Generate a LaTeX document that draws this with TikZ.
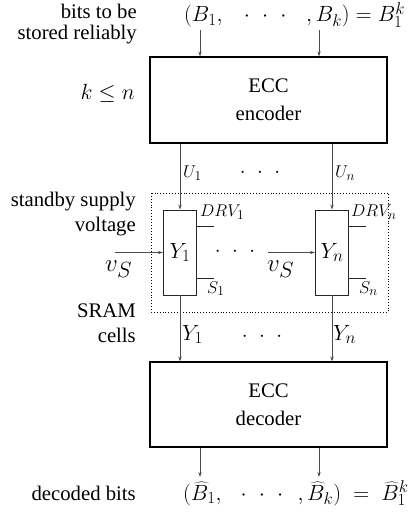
\RequirePackage{fix-cm}
\documentclass[tikz,border=0pt]{standalone}
\usepackage[no-math]{fontspec}
\setmainfont{Liberation Serif}
\usetikzlibrary{arrows.meta}
\DeclareMathSizes{22}{22}{17}{13}
\DeclareMathSizes{17}{17}{13.5}{10}
\DeclareMathSizes{25}{25}{22}{16}
\newcommand{\spdots}{{\cdot}\hspace{0.55em}{\cdot}\hspace{0.55em}{\cdot}}
\begin{document}
\begin{tikzpicture}[x=1pt,y=-1pt,
  lbl/.style={inner sep=0pt,font=\fontsize{20.74}{24}\selectfont},
  mth/.style={inner sep=0pt,font=\fontsize{22}{24}\selectfont},
  sml/.style={inner sep=0pt,font=\fontsize{17}{20}\selectfont},
  vsl/.style={inner sep=0pt,font=\fontsize{25}{28}\selectfont},
  eccbox/.style={draw,line width=1.2pt,minimum width=237pt,minimum height=86pt,
    align=center,inner sep=0pt,font=\fontsize{20.74}{28}\selectfont},
  cellbox/.style={draw=black!85,line width=0.9pt,minimum width=33pt,minimum height=85pt,
    inner sep=0pt,font=\fontsize{22}{24}\selectfont},
  conn/.style={line width=0.5pt,draw=black!70,-{Stealth[length=5pt,width=3.2pt]}},
  stub/.style={line width=0.8pt,draw=black!85},
  cellframe/.style={line width=0.9pt,dotted}]
\useasboundingbox (0,0) rectangle (412,518);

% boxes
\node[eccbox] (enc) at (268.5,100) {ECC\\encoder};
\node[eccbox,minimum height=85pt] (dec) at (268.5,404.5) {ECC\\decoder};
\node[cellbox] (cell1) at (180,252.5) {$Y_1$};
\node[cellbox] (celln) at (332,252.5) {$Y_n$};
\coordinate (fr1) at (151,193);
\coordinate (fr2) at (388,312);
\draw[cellframe] (fr1) rectangle (fr2);

% left labels
\node[lbl,anchor=base east] (t1) at (137,19) {bits to be};
\node[lbl,anchor=base east] (t2) at (137,40) {stored reliably};
\node[mth,anchor=base east] (kn) at (135,100) {$k\leq n$};
\node[lbl,anchor=base east] (t3) at (136,207) {standby supply};
\node[lbl,anchor=base east] (t4) at (136,231) {voltage};
\node[lbl,anchor=base east] (t5) at (136,317) {SRAM};
\node[lbl,anchor=base east] (t6) at (136,342) {cells};
\node[lbl,anchor=base east] (t7) at (136,500) {decoded bits};

% top and bottom formulas
\node[mth,anchor=base west] (top) at (184,22)
  {$(B_1,\hspace{0.8em}\spdots\hspace{0.9em},B_k)=B_1^k$};
\node[mth,anchor=base west] (bot) at (183,500)
  {$\bigl(\widehat{B}_1,\hspace{0.7em}\spdots\hspace{0.65em},\widehat{B}_k\bigr)\;=\;\widehat{B}_1^k$};

% input arrows
\coordinate (in1) at (200,30);
\coordinate (in2) at (319,30);
\draw[conn] (in1) -- (in1 |- enc.north);
\draw[conn] (in2) -- (in2 |- enc.north);

% encoder to cells
\draw[conn] (enc.south -| cell1.north) -- (cell1.north);
\draw[conn] (enc.south -| celln.north) -- (celln.north);
\node[sml,anchor=base west] (u1) at (183,178) {$U_1$};
\node[sml,anchor=base west] (un) at (335,178) {$U_n$};
\node[lbl] (udots) at (260,173) {$\spdots$};

% supply voltage inputs
\coordinate (v1) at (115,252.5);
\coordinate (v2) at (268,252.5);
\draw[conn] (v1) -- (cell1.west);
\draw[conn] (v2) -- (celln.west);
\node[vsl,anchor=base west] (vs1) at (105,271) {$v_S$};
\node[vsl,anchor=base west] (vs2) at (267,271) {$v_S$};
\node[lbl] (cdots) at (235,252) {$\spdots$};

% stubs
\draw[stub] ([yshift=-17pt]cell1.north east) coordinate (d1) -- ++(17,0);
\draw[stub] ([yshift=17pt]cell1.south east) coordinate (s1) -- ++(17,0);
\draw[stub] ([yshift=-17pt]celln.north east) coordinate (dn) -- ++(17,0);
\draw[stub] ([yshift=17pt]celln.south east) coordinate (sn) -- ++(17,0);
\node[sml,anchor=base west] (drv1) at (200,217) {$DRV_1$};
\node[sml,anchor=base west] (drvn) at (351,217) {$DRV_n$};
\node[sml,anchor=base west] (lab1) at (207,293) {$S_1$};
\node[sml,anchor=base west] (labn) at (359,293) {$S_n$};

% cells to decoder
\draw[conn] (cell1.south) -- (cell1.south |- dec.north);
\draw[conn] (celln.south) -- (celln.south |- dec.north);
\node[mth,anchor=base west] (y1) at (182,340) {$Y_1$};
\node[mth,anchor=base west] (yn) at (333,340) {$Y_n$};
\node[lbl] (ydots) at (262,337) {$\spdots$};

% output arrows
\coordinate (o1) at (200,477);
\coordinate (o2) at (319,477);
\draw[conn] (o1 |- dec.south) -- (o1);
\draw[conn] (o2 |- dec.south) -- (o2);
\end{tikzpicture}
\end{document}
